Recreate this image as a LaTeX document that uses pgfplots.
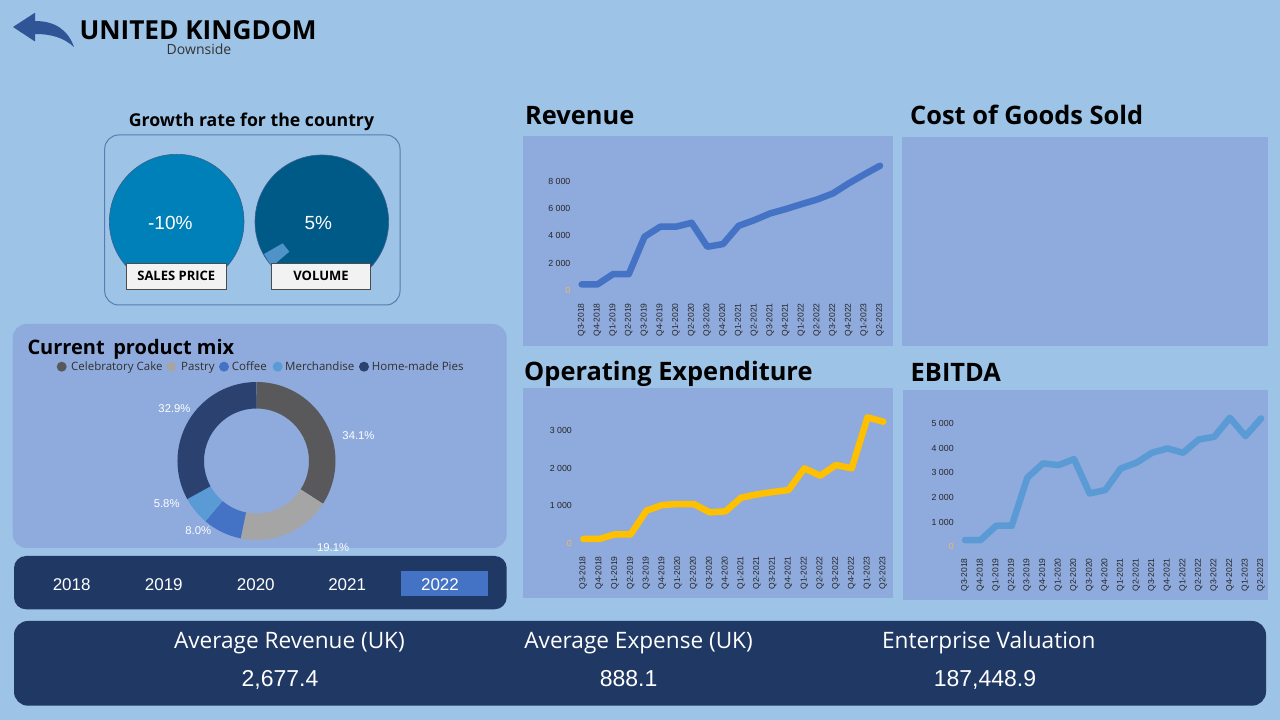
\documentclass[border=0pt]{standalone}
\usepackage{pgfplots}
\pgfplotsset{compat=1.18}
\usepackage{fontspec}
\setmainfont{Open Sans}
\newfontfamily\arial{Liberation Sans}
\definecolor{bg}{HTML}{9DC3E6}
\definecolor{panel}{HTML}{8FAADC}
\definecolor{navy}{HTML}{203864}
\definecolor{revc}{HTML}{4472C4}
\definecolor{opc}{HTML}{FFC000}
\definecolor{ebc}{HTML}{5B9BD5}
\definecolor{zeroc}{HTML}{F4B860}
\definecolor{tickc}{HTML}{262626}
\definecolor{spc}{HTML}{0080B8}
\definecolor{volc}{HTML}{005A88}
\definecolor{volbar}{HTML}{4F93C8}
\definecolor{gaugeb}{HTML}{3A5F8F}
\definecolor{boxb}{HTML}{5A7DB0}
\definecolor{arrowc}{HTML}{2F5597}
\definecolor{cake}{HTML}{59595B}
\definecolor{pastry}{HTML}{A5A5A5}
\definecolor{coffee}{HTML}{4472C4}
\definecolor{merch}{HTML}{5B9BD5}
\definecolor{pies}{HTML}{2B4270}
\definecolor{legt}{HTML}{303030}
\newcommand\fs[1]{\fontsize{#1}{#1}\selectfont}
\newcommand\sector[3]{%
  \fill[#3] (axis cs:{79*cos(90-3.6*#1)},{79*sin(90-3.6*#1)})
    arc[start angle={90-3.6*#1}, end angle={90-3.6*#2}, radius=79pt]
    -- (axis cs:{52.5*cos(90-3.6*#2)},{52.5*sin(90-3.6*#2)})
    arc[start angle={90-3.6*#2}, end angle={90-3.6*#1}, radius=52.5pt] -- cycle;}
\pgfplotsset{dash/.style={
  scale only axis, anchor=south west, clip=false,
  axis line style={draw=none}, major tick length=0pt, tick style={draw=none},
  scaled y ticks=false,
  xmin=-0.5, xmax=19.5, xtick={0,...,19},
  xticklabels={Q3-2018,Q4-2018,Q1-2019,Q2-2019,Q3-2019,Q4-2019,Q1-2020,Q2-2020,Q3-2020,Q4-2020,Q1-2021,Q2-2021,Q3-2021,Q4-2021,Q1-2022,Q2-2022,Q3-2022,Q4-2022,Q1-2023,Q2-2023},
  xticklabel style={rotate=90, anchor=east, font=\arial\fs{8.5}, text=tickc, inner sep=1.5pt},
  yticklabel style={font=\arial\fs{8.8}, text=tickc},
  /pgf/number format/assume math mode=true,
  every axis plot/.append style={line width=6.5pt, line join=round, line cap=round, mark=none}
}}
\begin{document}
\begin{tikzpicture}[x=1pt,y=1pt]
\fill[bg] (0,0) rectangle (1280,720);
% header
\fill[arrowc] (13,720-27) -- (35,720-12.7) -- (35,720-21) .. controls (55,720-21) and (68,720-30) .. (74,720-47)
  .. controls (64,720-38) and (52,720-34) .. (35,720-34) -- (35,720-41.5) -- cycle;
\node[anchor=base west, inner sep=0, font=\bfseries\fs{26.2}] at (79.3,720-39.8) {UNITED KINGDOM};
\node[anchor=base, inner sep=0, font=\fs{14}, text=black!80] at (199,720-54.5) {Downside};
% growth gauges
\node[anchor=base, inner sep=0, font=\bfseries\fs{17.7}] at (251.5,720-126.7) {Growth rate for the country};
\draw[boxb, line width=1pt, rounded corners=14pt] (104.7,720-135) rectangle (400,720-305);
\filldraw[fill=spc, draw=gaugeb, line width=0.6pt] (176.7,720-221.6) circle[radius=67.3];
\filldraw[fill=volc, draw=gaugeb, line width=0.6pt] (321.8,720-221.8) circle[radius=66.8];
\fill[volbar] (264,720-254) -- (282.7,720-243.3) -- (289.3,720-251.7) -- (271.7,720-266.7) -- cycle;
\node[anchor=center, inner sep=0, font=\arial\fs{19}, text=white] at (170.3,720-222.7) {-10\%};
\node[anchor=center, inner sep=0, font=\arial\fs{19}, text=white] at (318.3,720-222.7) {5\%};
\filldraw[fill=black!5, draw=black!70, line width=0.8pt] (126.7,720-263.3) rectangle (226,720-289.3);
\filldraw[fill=black!5, draw=black!70, line width=0.8pt] (271.7,720-263.3) rectangle (370,720-289.3);
\node[inner sep=0, font=\bfseries\fs{13}] at (176.3,720-276.3) {SALES PRICE};
\node[inner sep=0, font=\bfseries\fs{13}] at (321,720-276.3) {VOLUME};
% product mix panel
\fill[panel, rounded corners=14pt] (12.7,720-324) rectangle (506.7,720-548);
\node[anchor=base west, inner sep=0, font=\bfseries\fs{20}] at (27.3,720-354.3) {Current\, product mix};
\foreach \x/\c/\t/\tx in {61.7/cake/Celebratory Cake/71, 171.3/pastry/Pastry/181, 224/coffee/Coffee/231.7, 277.7/merch/Merchandise/285, 364/pies/Home-made Pies/371.7}{
  \fill[\c] (\x,720-366.7) circle[radius=5];
  \node[anchor=base west, inner sep=0, font=\fs{11.5}, text=legt] at (\tx,720-371) {\t};
}
\begin{axis}[at={(256.5pt,259pt)}, anchor=origin, x=1pt, y=1pt, xmin=-90, xmax=90, ymin=-90, ymax=90, hide axis, clip=false]
\addplot[draw=none] coordinates {(0,0)};
\sector{0}{34.1}{cake}
\sector{34.1}{53.2}{pastry}
\sector{53.2}{61.2}{coffee}
\sector{61.2}{67.0}{merch}
\sector{67.0}{100}{pies}
\end{axis}
\foreach \x/\y/\t in {358.5/436/34.1, 333.2/547.7/19.1, 198.3/531/8.0, 166.7/503.3/5.8, 174.5/408.3/32.9}{
  \node[inner sep=0, font=\arial\fs{11.3}, text=white] at (\x,720-\y) {\t\%};
}
% year slicer
\fill[navy, rounded corners=12pt] (14,720-556) rectangle (506.7,720-609.3);
\fill[revc] (401,720-571) rectangle (488.3,720-595.7);
\foreach \x/\t in {71.7/2018, 163.8/2019, 255.8/2020, 347.2/2021, 440/2022}{
  \node[anchor=base, inner sep=0, font=\arial\fs{17}, text=white] at (\x,720-591) {\t};
}
% KPI bar
\fill[navy, rounded corners=14pt] (14,720-621) rectangle (1266,720-705.7);
\foreach \x/\t in {289.4/Average Revenue (UK), 638.6/Average Expense (UK), 988.8/Enterprise Valuation}{
  \node[anchor=base, inner sep=0, font=\fs{22.6}, text=white] at (\x,720-648.3) {\t};
}
\foreach \x/\t in {280/{2,677.4}, 628.6/888.1, 985/{187,448.9}}{
  \node[anchor=base, inner sep=0, font=\arial\fs{23}, text=white] at (\x,720-686.7) {\t};
}
% chart panels
\fill[panel] (522.7,720-136) rectangle (893.3,720-346);
\fill[panel] (902,720-137.3) rectangle (1268,720-346);
\fill[panel] (522.7,720-388.3) rectangle (892.7,720-598.3);
\fill[panel] (902.7,720-389.7) rectangle (1268,720-600);
\node[anchor=base west, inner sep=0, font=\bfseries\fs{25.4}] at (525,720-124.5) {Revenue};
\node[anchor=base west, inner sep=0, font=\bfseries\fs{25.4}] at (910,720-124.5) {Cost of Goods Sold};
\node[anchor=base west, inner sep=0, font=\bfseries\fs{25.4}] at (524,720-381) {Operating Expenditure};
\node[anchor=base west, inner sep=0, font=\bfseries\fs{25.4}] at (910.5,720-382) {EBITDA};
% Revenue
\begin{axis}[dash, at={(573.85pt,418.3pt)}, width=314pt, height=148pt, ymin=-800, ymax=10000,
  ytick={0,2000,4000,6000,8000}, yticklabels={{\color{zeroc}0},2 000,4 000,6 000,8 000}]
\addplot[revc] coordinates {(0,462) (1,462) (2,1216) (3,1216) (4,3940) (5,4670) (6,4670) (7,4960) (8,3210) (9,3405)
  (10,4740) (11,5155) (12,5640) (13,5960) (14,6320) (15,6660) (16,7100) (17,7830) (18,8490) (19,9120)};
\end{axis}
% Operating expenditure
\begin{axis}[dash, at={(575.4pt,165.4pt)}, width=315.8pt, height=161.25pt, ymin=-300, ymax=4000,
  ytick={0,1000,2000,3000}, yticklabels={{\color{zeroc}0},1 000,2 000,3 000}]
\addplot[opc] coordinates {(0,116) (1,116) (2,240) (3,240) (4,871) (5,1022) (6,1049) (7,1049) (8,827) (9,853)
  (10,1218) (11,1307) (12,1369) (13,1422) (14,2000) (15,1804) (16,2089) (17,2000) (18,3360) (19,3244)};
\end{axis}
% EBITDA
\begin{axis}[dash, at={(957.2pt,163.4pt)}, width=311.6pt, height=152.9pt, ymin=-400, ymax=5800,
  ytick={0,1000,2000,3000,4000,5000}, yticklabels={{\color{zeroc}0},1 000,2 000,3 000,4 000,5 000}]
\addplot[ebc] coordinates {(0,270) (1,270) (2,851) (3,851) (4,2797) (5,3378) (6,3310) (7,3553) (8,2162) (9,2297)
  (10,3175) (11,3405) (12,3810) (13,3986) (14,3810) (15,4350) (16,4459) (17,5228) (18,4486) (19,5201)};
\end{axis}
\end{tikzpicture}
\end{document}
